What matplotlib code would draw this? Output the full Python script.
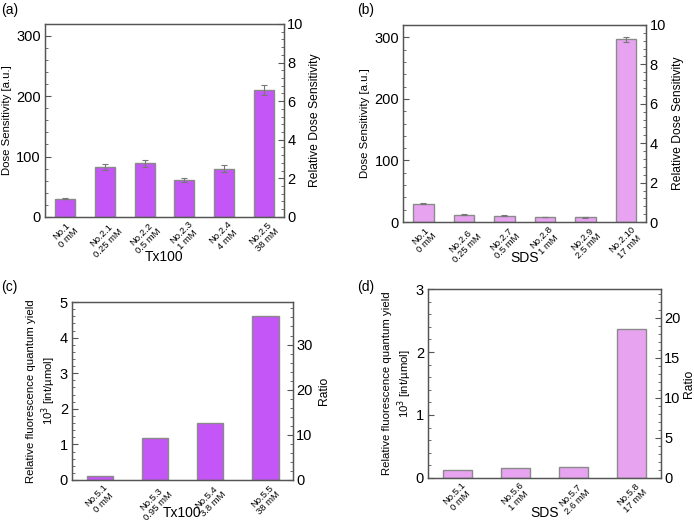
import matplotlib
matplotlib.use("Agg")
import matplotlib.pyplot as plt
from matplotlib.ticker import MultipleLocator, AutoMinorLocator
import numpy as np

plt.rcParams['font.family'] = ['Liberation Sans', 'DejaVu Sans']

# Panel (a)
a_labels = ["No.1\n0 mM", "No.2.1\n0.25 mM", "No.2.2\n0.5 mM", "No.2.3\n1 mM", "No.2.4\n4 mM", "No.2.5\n38 mM"]
a_values = [30, 82, 89, 61, 80, 210]
a_errors = [0.5, 5, 6, 4, 6, 8]

# Panel (b)
b_labels = ["No.1\n0 mM", "No.2.6\n0.25 mM", "No.2.7\n0.5 mM", "No.2.8\n1 mM", "No.2.9\n2.5 mM", "No.2.10\n17 mM"]
b_values = [30, 12, 10, 8, 8, 297]
b_errors = [0.8, 0.5, 0.8, 0.5, 0.8, 4]

# Panel (c)
c_labels = ["No.5.1\n0 mM", "No.5.3\n0.95 mM", "No.5.4\n3.8 mM", "No.5.5\n38 mM"]
c_values = [0.12, 1.19, 1.61, 4.62]

# Panel (d)
d_labels = ["No.5.1\n0 mM", "No.5.6\n1 mM", "No.5.7\n2.6 mM", "No.5.8\n17 mM"]
d_values = [0.12, 0.15, 0.18, 2.37]

PURPLE = '#C455F7'
PINK = '#E8A3F0'
EDGE = '#8a8a8a'
SPINE = '#555555'

fig = plt.figure(figsize=(6.94, 5.2), dpi=100)

def style(ax, twin):
    for a in (ax, twin):
        for s in a.spines.values():
            s.set_color(SPINE)
            s.set_linewidth(0.9)
    ax.tick_params(axis='y', which='both', direction='in', labelsize=10.5, color=SPINE, pad=3)
    ax.tick_params(axis='y', which='major', length=4)
    ax.tick_params(axis='y', which='minor', length=2)
    ax.tick_params(axis='x', which='both', length=0, labelsize=6.8, pad=2)
    twin.tick_params(axis='y', which='both', direction='in', labelsize=10.5, color=SPINE, pad=2.5)
    twin.tick_params(axis='y', which='major', length=4)
    twin.tick_params(axis='y', which='minor', length=2)

def panel(rect, labels, values, errors, color, ylim, ymaj, ymin_n, rlim, rmaj, rmin_n,
          ylabel, rlabel, xlabel, xlab_y, tag, tagpos, width, ylabel_fs=8.2, rpad=4,
          lpad=3, lspace=1.5):
    ax = fig.add_axes(rect)
    x = np.arange(len(values))
    if errors is not None:
        ax.bar(x, values, width=width, color=color, edgecolor=EDGE, linewidth=1.0,
               yerr=errors, error_kw=dict(ecolor='#777777', elinewidth=0.8, capsize=2.5, capthick=0.8), zorder=2)
    else:
        ax.bar(x, values, width=width, color=color, edgecolor=EDGE, linewidth=1.0, zorder=2)
    ax.set_xlim(-0.5, len(values) - 0.5)
    ax.set_ylim(*ylim)
    ax.yaxis.set_major_locator(MultipleLocator(ymaj))
    ax.yaxis.set_minor_locator(AutoMinorLocator(ymin_n))
    ax.set_xticks(x)
    ax.set_xticklabels(labels, rotation=45, ha='center', va='top',
                       multialignment='center', linespacing=1.1)
    ax.set_ylabel(ylabel, fontsize=ylabel_fs, labelpad=lpad, linespacing=lspace)
    ax.set_xlabel(xlabel, fontsize=10)
    ax.xaxis.set_label_coords(0.5, xlab_y)
    twin = ax.twinx()
    twin.set_ylim(*rlim)
    twin.yaxis.set_major_locator(MultipleLocator(rmaj))
    twin.yaxis.set_minor_locator(AutoMinorLocator(rmin_n))
    twin.set_ylabel(rlabel, fontsize=ylabel_fs + 0.5, labelpad=rpad)
    style(ax, twin)
    fig.text(tagpos[0], tagpos[1], tag, fontsize=10, ha='left', va='top')
    return ax, twin

panel([0.065, 0.583, 0.344, 0.371], a_labels, a_values, a_errors, PURPLE,
      (0, 320), 100, 5, (0, 10), 2, 5,
      'Dose Sensitivity [a.u.]', 'Relative Dose Sensitivity', 'Tx100', -0.17, '(a)', (0.002, 0.995), 0.5)

panel([0.581, 0.573, 0.350, 0.379], b_labels, b_values, b_errors, PINK,
      (0, 320), 100, 5, (0, 10), 2, 5,
      'Dose Sensitivity [a.u.]', 'Relative Dose Sensitivity', 'SDS', -0.148, '(b)', (0.515, 0.995), 0.5)

panel([0.104, 0.077, 0.318, 0.342], c_labels, c_values, None, PURPLE,
      (0, 5), 1, 5, (0, 39.4), 10, 5,
      'Relative fluorescence quantum yield\n10$^3$ [int/\u00b5mol]', 'Ratio', 'Tx100', -0.148, '(c)', (0.002, 0.462), 0.48,
      lpad=1, lspace=1.25)

panel([0.617, 0.081, 0.335, 0.363], d_labels, d_values, None, PINK,
      (0, 3), 1, 5, (0, 23.6), 5, 5,
      'Relative fluorescence quantum yield\n10$^3$ [int/\u00b5mol]', 'Ratio', 'SDS', -0.15, '(d)', (0.515, 0.462), 0.5,
      rpad=2, lpad=1, lspace=1.25)

fig.savefig('out.png', dpi=100)
